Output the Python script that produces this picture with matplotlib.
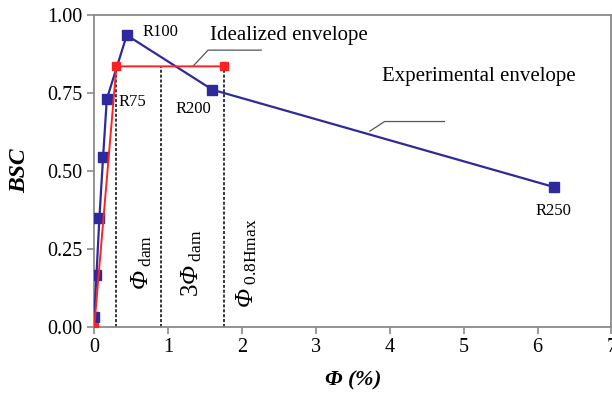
import matplotlib
matplotlib.use("Agg")
import matplotlib.pyplot as plt

plt.rcParams['font.family'] = ['Liberation Serif', 'DejaVu Serif']
plt.rcParams['mathtext.fontset'] = 'custom'
plt.rcParams['mathtext.rm'] = 'Liberation Serif'
plt.rcParams['mathtext.it'] = 'Liberation Serif:italic'
plt.rcParams['mathtext.sf'] = 'Liberation Serif:italic'
plt.rcParams['mathtext.bf'] = 'Liberation Serif:bold:italic'

# experimental envelope (drift %, BSC)
exp_x = [0.0, 0.03, 0.07, 0.12, 0.17, 0.44, 1.60, 6.22]
exp_y = [0.03, 0.165, 0.35, 0.545, 0.73, 0.935, 0.76, 0.448]

# idealized envelope
ide_x = [0.0, 0.30, 1.75]
ide_y = [0.0, 0.835, 0.835]

# reference drifts (dashed lines)
ref_x = [0.29, 0.90, 1.75]
ref_top = 0.835
ref_labels = [r'$\mathsf{\Phi}_{\ \mathrm{dam}}$',
              r'$3\mathsf{\Phi}_{\ \mathrm{dam}}$',
              r'$\mathsf{\Phi}_{\ 0.8\mathrm{Hmax}}$']
ref_label_x = [0.64, 1.32, 2.06]

point_labels = ['R75', 'R100', 'R200', 'R250']
point_label_xy = [(0.33, 0.72), (0.66, 0.945), (1.10, 0.697), (6.22, 0.37)]

blue = '#2e2a9c'
red = '#ff2222'
grey = '#8a8a8a'

fig = plt.figure(figsize=(6.12, 3.93), dpi=100)
ax = fig.add_axes([0.154, 0.169, 0.845, 0.793])

for x in ref_x:
    ax.plot([x, x], [0, ref_top], color='black', ls=(0, (2, 1.2)), lw=1.1, zorder=1)

ax.plot(exp_x, exp_y, color=blue, lw=1.6, marker='s', ms=6.5, zorder=3)
ax.plot(ide_x, ide_y, color=red, lw=1.4, marker='s', ms=5.5, zorder=4)

for lab, x in zip(ref_labels, ref_label_x):
    ax.text(x, 0.205, lab, rotation=90, ha='center', va='center', fontsize=18)

for lab, (x, y) in zip(point_labels, point_label_xy):
    ha = 'center' if lab == 'R250' else 'left'
    ax.text(x, y, lab, ha=ha, va='center', fontsize=12)

# leader lines for the two envelope labels
ax.plot([1.34, 1.54, 2.26], [0.836, 0.887, 0.887], color='#555555', lw=0.9, zorder=2)
ax.text(1.57, 0.935, 'Idealized envelope', ha='left', va='center', fontsize=15)
ax.plot([3.73, 3.93, 4.74], [0.627, 0.658, 0.658], color='#555555', lw=0.9, zorder=2)
ax.text(3.90, 0.803, 'Experimental envelope', ha='left', va='center', fontsize=15)

ax.set_xlim(0, 7)
ax.set_ylim(0, 1.0)
ax.set_xticks(range(0, 8))
ax.set_yticks([0, 0.25, 0.5, 0.75, 1.0])
ax.set_yticklabels(['0.00', '0.25', '0.50', '0.75', '1.00'])
ax.tick_params(labelsize=14.5, color=grey, length=5, width=1.2, direction='out')
for s in ax.spines.values():
    s.set_color(grey)
    s.set_linewidth(1.3)

ax.set_xlabel(r'$\mathbf{\Phi}$ (%)', fontsize=16, fontweight='bold', style='italic', labelpad=8)
ax.set_ylabel('BSC', fontsize=17, fontweight='bold', style='italic', labelpad=12)

fig.savefig('out.png', dpi=100)
